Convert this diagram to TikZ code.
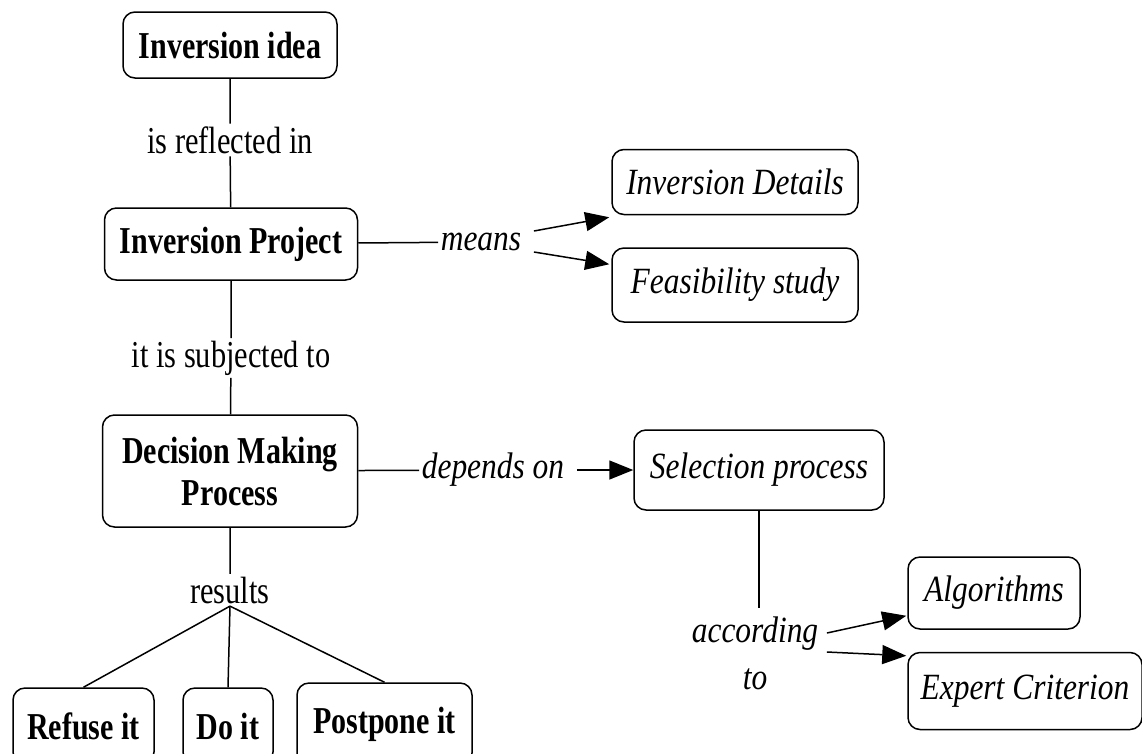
\documentclass[tikz,border=0pt]{standalone}
\usepackage{fontspec}
\setmainfont{Liberation Serif}[UprightFeatures={FakeStretch=0.8},BoldFeatures={FakeStretch=0.79},ItalicFeatures={FakeStretch=0.85}]
\usetikzlibrary{arrows.meta}

\begin{document}
\begin{tikzpicture}[x=1pt, y=-1pt, line width=1.5pt,
    concept/.style={draw, rounded corners=12pt, inner sep=0pt, align=center, font=\fontsize{38}{42}\selectfont\bfseries},
    detail/.style={draw, rounded corners=12pt, inner sep=0pt, font=\fontsize{37}{42}\selectfont\itshape},
    link/.style={inner sep=2pt, align=center, font=\fontsize{38}{47}\selectfont},
    ilink/.style={link, font=\fontsize{37}{47}\selectfont\itshape},
    arr/.style={-{Triangle[length=24pt,width=19pt]}}]
    \useasboundingbox (0,0) rectangle (1142,753);
    % boxes
    \node[concept, minimum width=214pt, minimum height=66pt] (0) at (230,45) {Inversion idea};
    \node[concept, minimum width=253pt, minimum height=72pt] (1) at (231,244) {Inversion Project};
    \node[concept, minimum width=255pt, minimum height=112pt] (2) at (230,471) {Decision Making\\Process};
    \node[detail, minimum width=246pt, minimum height=65pt] (3) at (735,182) {Inversion Details};
    \node[detail, minimum width=246pt, minimum height=74pt] (4) at (735,285) {Feasibility study};
    \node[detail, minimum width=250pt, minimum height=80pt] (5) at (759,470) {Selection process};
    \node[detail, minimum width=172pt, minimum height=72pt] (6) at (994,593) {Algorithms};
    \node[detail, minimum width=234pt, minimum height=77pt] (7) at (1025,691) {Expert Criterion};
    \node[concept, minimum width=141pt, minimum height=76pt] (8) at (83.5,726) {Refuse it};
    \node[concept, minimum width=90pt, minimum height=76pt] (9) at (228,726) {Do it};
    \node[concept, minimum width=175pt, minimum height=82pt] (10) at (384.5,724) {Postpone it};
    % links
    \node[link] (a) at (230,140) {is reflected in};
    \node[ilink] (b) at (481,242) {means};
    \node[link] (c) at (231,358) {it is subjected to};
    \node[ilink] (d) at (493,470) {depends on};
    \node[link] (e) at (230,590) {results};
    \node[ilink] (f) at (755,653) {according\\to};
        \draw (0) -- (a) -- (1) -- (c) -- (2) -- (e);
        \draw (1) -- (b);
        \draw (2) -- (d);
        \draw (5) -- ([yshift=6pt]5 |- f.north);
        \draw (e.south) -- (8.north);
        \draw (e.south) -- (9.north);
        \draw (e.south) -- (10.north);
        \draw[arr] ([xshift=10pt,yshift=11pt]b.east) -- ([xshift=-2pt,yshift=-2pt]3.south west);
        \draw[arr] ([xshift=10pt,yshift=-10pt]b.east) -- ([xshift=-2pt,yshift=-17pt]4.north west);
        \draw[arr] ([xshift=10pt]d.east) -- (5.west);
        \draw[arr] ([xshift=6pt,yshift=20pt]f.east) -- ([xshift=-1pt,yshift=14pt]6.south west);
        \draw[arr] ([xshift=6pt,yshift=1pt]f.east) -- ([xshift=-1pt,yshift=-4pt]7.north west);
\end{tikzpicture}
\end{document}
